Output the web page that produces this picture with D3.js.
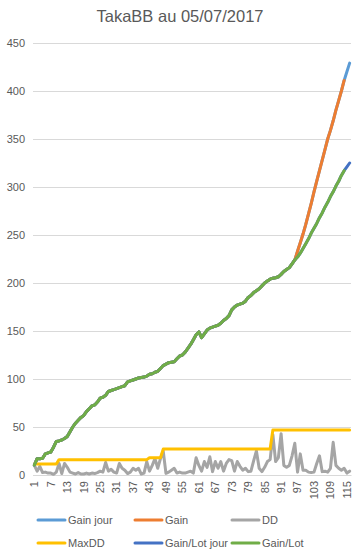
<!DOCTYPE html>
<html>
<head>
<meta charset="utf-8">
<script src="https://cdn.jsdelivr.net/npm/d3@7"></script>
<style>
  body { margin: 0; background: #fff; }
  text { font-family: "Liberation Sans", Arial, sans-serif; fill: #595959; }
</style>
</head>
<body>
<div id="chart"></div>
<script>
// categories on the x axis (trading days)
var days = d3.range(1, 117);
var dayTicks = [1, 7, 13, 19, 25, 31, 37, 43, 49, 55, 61, 67, 73, 79, 85, 91, 97, 103, 109, 115];
var valueTicks = [0, 50, 100, 150, 200, 250, 300, 350, 400, 450];

// Gain and Gain/Lot are equal up to day 96
var gainShared = [10.4, 17, 17, 17.5, 22, 23, 24, 29, 35, 35.5,
  36.5, 38, 40, 45, 50, 54, 57, 60, 62, 66,
  69, 72, 73, 76, 80, 81, 83, 87, 88, 89,
  90, 91, 92, 93, 97, 98, 99, 100, 101, 101.5,
  102, 103, 105, 105.5, 107, 108, 111, 114, 115.5, 117,
  117.5, 118, 121, 124, 125, 128, 132, 136, 141, 146,
  149, 143, 147, 151, 153, 154, 155, 156, 158, 161,
  163, 166, 172, 175, 177, 178, 179, 181, 185, 187,
  190, 192, 194, 197, 200, 202, 204, 205, 205.5, 206.5,
  209, 212, 214, 216, 220, 224];
// days 97..114
var gainTail = [233, 242, 251, 261, 272, 283, 295, 306, 317, 328, 339, 350, 359, 369, 380, 390, 400, 411];
var gainLotTail = [227, 231, 236, 241, 246, 252, 257, 262, 268, 273, 279, 284, 290, 295, 301, 306, 312, 317];
// days 115..116
var gainJourTail = [420, 429];
var gainLotJourTail = [321, 325];

var dd = [10, 4, 9, 2.5, 3, 2, 2, 0.7, 3, 12,
  1.5, 12, 8, 3, 2, 1, 2.5, 1, 1, 2,
  1, 2, 1.5, 2.5, 4, 3, 13, 4, 6, 3,
  2, 12, 7, 5, 1.5, 3, 7, 5, 7, 1,
  2, 14, 4, 10, 17, 7, 17, 25, 1.7, 3,
  5, 7, 2, 3, 2, 2, 3, 4, 2, 18,
  10, 4, 14, 8, 19, 3.5, 14, 7, 14, 4,
  12, 16, 15, 4, 14, 9, 5, 7, 3.5, 4,
  15, 25, 7, 3.5, 8, 14, 16, 42, 14, 18,
  43, 10, 8, 10, 20, 33, 3, 22, 5, 5,
  3, 2.5, 3, 12, 20, 3.5, 4, 3, 7, 34,
  10, 7, 5, 7, 2, 4];
var maxDD = [11.5, 11.5, 11.5, 11.5, 11.5, 11.5, 11.5, 11.5, 11.5, 16,
  16, 16, 16, 16, 16, 16, 16, 16, 16, 16,
  16, 16, 16, 16, 16, 16, 16, 16, 16, 16,
  16, 16, 16, 16, 16, 16, 16, 16, 16, 16,
  16, 16, 18, 18, 18, 18, 18, 27, 27, 27,
  27, 27, 27, 27, 27, 27, 27, 27, 27, 27,
  27, 27, 27, 27, 27, 27, 27, 27, 27, 27,
  27, 27, 27, 27, 27, 27, 27, 27, 27, 27,
  27, 27, 27, 27, 27, 27, 27, 47, 47, 47,
  47, 47, 47, 47, 47, 47, 47, 47, 47, 47,
  47, 47, 47, 47, 47, 47, 47, 47, 47, 47,
  47, 47, 47, 47, 47, 47];

var gain = gainShared.concat(gainTail);
var gainLot = gainShared.concat(gainLotTail);
var gainJour = gain.concat(gainJourTail);
var gainLotJour = gainLot.concat(gainLotJourTail);

// drawing order = legend order
var series = [
  {name: "Gain jour", values: gainJour, color: "#5B9BD5"},
  {name: "Gain", values: gain, color: "#ED7D31"},
  {name: "DD", values: dd, color: "#A5A5A5"},
  {name: "MaxDD", values: maxDD, color: "#FFC000"},
  {name: "Gain/Lot jour", values: gainLotJour, color: "#4472C4"},
  {name: "Gain/Lot", values: gainLot, color: "#70AD47"}
];

var width = 358, height = 553;
var svg = d3.select("#chart").append("svg")
  .attr("width", width)
  .attr("height", height);

var x = d3.scaleBand().domain(days).range([33, 351]).padding(0);
var y = d3.scaleLinear().domain([0, 450]).range([475, 43]);

// title
svg.append("text")
  .attr("x", 180)
  .attr("y", 22)
  .attr("text-anchor", "middle")
  .style("font-size", "16.5px")
  .text("TakaBB au 05/07/2017");

// gridlines
svg.append("g")
  .selectAll("line")
  .data(valueTicks)
  .enter().append("line")
  .attr("x1", 33).attr("x2", 351)
  .attr("y1", function(d) { return Math.round(y(d)) + 0.5; })
  .attr("y2", function(d) { return Math.round(y(d)) + 0.5; })
  .attr("stroke", "#d9d9d9")
  .attr("stroke-width", 1);

// y axis labels
var yAxis = svg.append("g")
  .attr("transform", "translate(33,0)")
  .call(d3.axisLeft(y).tickValues(valueTicks).tickSize(0).tickPadding(8));
yAxis.select(".domain").remove();
yAxis.selectAll("text").style("font-size", "11px").attr("fill", "#595959");

// x axis labels
var xAxis = svg.append("g")
  .attr("transform", "translate(0,475)")
  .call(d3.axisBottom(x).tickValues(dayTicks).tickSize(0).tickPadding(0));
xAxis.select(".domain").attr("stroke", "#d9d9d9");
xAxis.selectAll("text")
  .style("font-size", "11px")
  .attr("fill", "#595959")
  .attr("text-anchor", "end")
  .attr("dy", "0.35em")
  .attr("transform", "translate(0,6) rotate(-90)")
  .attr("x", 0).attr("y", 0);

var line = d3.line()
  .x(function(d, i) { return x(days[i]) + x.bandwidth() / 2; })
  .y(function(d) { return y(d); });

svg.append("g")
  .selectAll("path")
  .data(series)
  .enter().append("path")
  .attr("d", function(d) { return line(d.values); })
  .attr("fill", "none")
  .attr("stroke", function(d) { return d.color; })
  .attr("stroke-width", 3)
  .attr("stroke-linejoin", "round")
  .attr("stroke-linecap", "round");

// legend, 3 per row
var legend = svg.append("g")
  .selectAll("g")
  .data(series)
  .enter().append("g")
  .attr("transform", function(d, i) {
    return "translate(" + (38 + (i % 3) * 97) + "," + (520 + Math.floor(i / 3) * 23) + ")";
  });

legend.append("line")
  .attr("x1", 0).attr("x2", 27)
  .attr("stroke", function(d) { return d.color; })
  .attr("stroke-width", 3)
  .attr("stroke-linecap", "round");

legend.append("text")
  .attr("x", 30)
  .attr("dy", "0.35em")
  .style("font-size", "11px")
  .text(function(d) { return d.name; });
</script>
</body>
</html>
